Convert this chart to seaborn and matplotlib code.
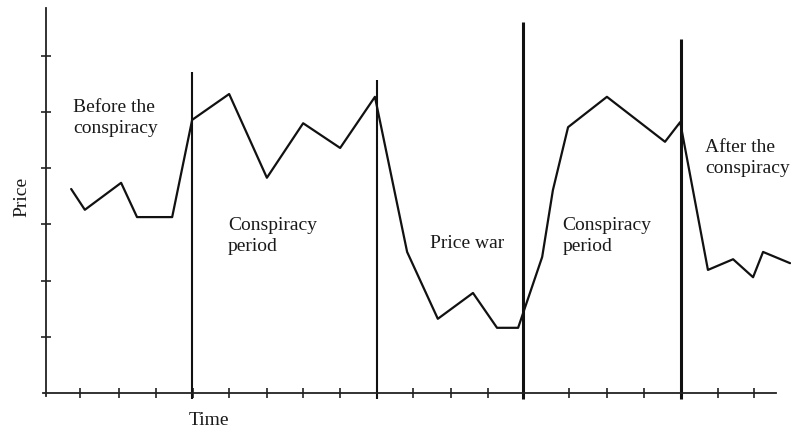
import matplotlib
matplotlib.use("Agg")
import matplotlib.pyplot as plt
import seaborn as sns
import pandas as pd

# ---- data (x in tick units, y in price-tick units) ----
time = [0.68, 1.05, 2.03, 2.46, 3.41, 3.95, 4.95, 5.97, 6.95, 7.95, 8.89,
        9.76, 10.59, 11.54, 12.19, 12.76, 13.41, 13.70, 14.11, 15.16, 16.73,
        17.14, 17.89, 18.57, 19.11, 19.38, 20.11]
price = [3.63, 3.26, 3.74, 3.13, 3.13, 4.86, 5.32, 3.83, 4.80, 4.36, 5.27,
         2.51, 1.32, 1.78, 1.16, 1.16, 2.42, 3.61, 4.73, 5.27, 4.47,
         4.82, 2.19, 2.38, 2.06, 2.51, 2.31]
x_ticks = [0.92, 1.97, 2.97, 3.97, 4.95, 5.97, 6.95, 7.95, 8.95, 9.92, 10.95,
           11.95, 12.92, 14.14, 15.16, 16.16, 17.16, 18.16, 19.14]
y_ticks = [1, 2, 3, 4, 5, 6]
boundaries = [3.95, 8.95, 12.89, 17.16]
boundary_tops = [5.71, 5.57, 6.60, 6.30]
boundary_widths = [1.5, 1.5, 2.2, 2.2]
period_labels = [("Before the", "conspiracy"), ("Conspiracy", "period"),
                 ("Price war", None), ("Conspiracy", "period"),
                 ("After the", "conspiracy")]
label_pos = [(0.73, 5.00), (4.92, 2.90), (10.38, 2.58), (13.95, 2.90), (17.81, 4.29)]

sns.set_style("white")
plt.rcParams["font.family"] = ["Liberation Serif", "DejaVu Serif"]

W, H = 791, 430
fig = plt.figure(figsize=(W / 100, H / 100), dpi=100)
ux, uy = 37.0, 56.2
left_px, bottom_px = 46, 37
ax = fig.add_axes([left_px / W, bottom_px / H, (W - left_px) / W, (H - bottom_px) / H])
ax.set_xlim(0, (W - left_px) / ux)
ax.set_ylim(0, (H - bottom_px) / uy)

df = pd.DataFrame({"Time": time, "Price": price})
sns.lineplot(data=df, x="Time", y="Price", sort=False, estimator=None,
             color="#111111", linewidth=1.6, ax=ax, clip_on=False)

for xb, top, lw in zip(boundaries, boundary_tops, boundary_widths):
    ax.vlines(xb, -0.1, top, color="#111111", linewidth=lw, clip_on=False)

for sp in ["top", "right"]:
    ax.spines[sp].set_visible(False)
for sp in ["left", "bottom"]:
    ax.spines[sp].set_color("#222222")
    ax.spines[sp].set_linewidth(1.3)
ax.spines["bottom"].set_bounds(-0.08, (776 - left_px) / ux)
ax.spines["left"].set_bounds(-0.05, (393 - 8) / uy)

ax.set_xticks(x_ticks)
ax.set_yticks(y_ticks)
ax.set_xticklabels([])
ax.set_yticklabels([])
ax.tick_params(axis="both", direction="inout", length=7, width=1.2,
               color="#222222", bottom=True, left=True)
ax.set_xlabel("")
ax.set_ylabel("")

tc = "#1a1a1a"
fs = 14
for (l1, l2), (px, py) in zip(period_labels, label_pos):
    ax.text(px, py, l1, fontsize=fs, color=tc, va="baseline", ha="left")
    if l2:
        ax.text(px, py - 21 / uy, l2, fontsize=fs, color=tc, va="baseline", ha="left")

fig.text(22 / W, 1 - 197 / H, "Price", rotation=90, fontsize=fs, color=tc,
         ha="center", va="center")
fig.text(209 / W, 1 - 425 / H, "Time", fontsize=fs, color=tc,
         ha="center", va="baseline")

fig.savefig("out.png", dpi=100)
